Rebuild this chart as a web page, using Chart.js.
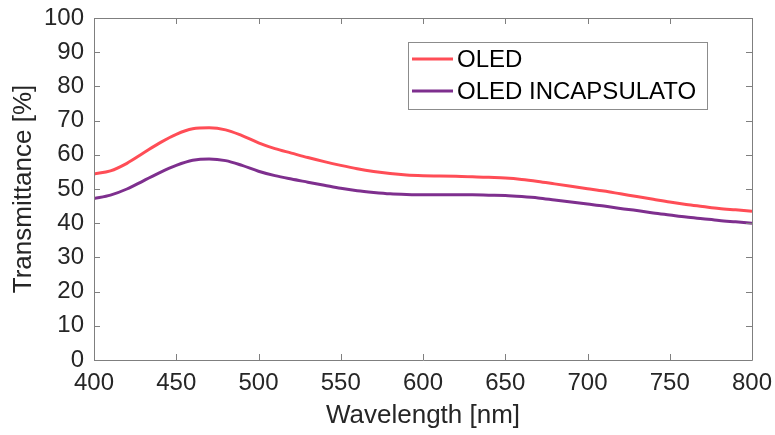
<!DOCTYPE html>
<html>
<head>
<meta charset="utf-8">
<script src="https://cdn.jsdelivr.net/npm/chart.js@4/dist/chart.umd.min.js"></script>
<style>
  html, body { margin: 0; padding: 0; background: #fff; }
  #wrap { width: 775px; height: 435px; position: relative; }
</style>
</head>
<body>
<div id="wrap"><canvas id="chart1"></canvas></div>
<script>
// wavelength (nm)
const wavelengths = [400, 410, 420, 430, 440, 450, 460, 470, 480, 490,
    500, 510, 520, 530, 540, 550, 560, 570, 580, 590,
    600, 610, 620, 630, 640, 650, 660, 670, 680, 690,
    700, 710, 720, 730, 740, 750, 760, 770, 780, 790, 800];

// transmittance (%)
const oled = [54.4, 55.3, 57.5, 60.5, 63.5, 66.0, 67.6, 67.9, 67.3, 65.6,
    63.5, 61.8, 60.5, 59.2, 58.0, 56.9, 55.9, 55.1, 54.5, 54.1,
    53.9, 53.8, 53.7, 53.6, 53.4, 53.2, 52.8, 52.2, 51.5, 50.8,
    50.1, 49.4, 48.6, 47.8, 47.0, 46.2, 45.5, 44.9, 44.3, 43.9, 43.5];

const oledIncapsulato = [47.2, 48.2, 50.0, 52.4, 54.8, 56.9, 58.4, 58.8, 58.3, 56.9,
    55.2, 53.9, 52.9, 52.0, 51.1, 50.2, 49.5, 49.0, 48.6, 48.4,
    48.3, 48.3, 48.3, 48.3, 48.2, 48.1, 47.8, 47.4, 46.8, 46.2,
    45.6, 45.0, 44.3, 43.7, 43.0, 42.4, 41.8, 41.3, 40.8, 40.4, 40.0];

const seriesLabels = ['OLED', 'OLED INCAPSULATO'];
const seriesColors = ['#ff4d56', '#7e2f8e'];

const xTicks = [400, 450, 500, 550, 600, 650, 700, 750, 800];
const yTicks = [0, 10, 20, 30, 40, 50, 60, 70, 80, 90, 100];

const FONT = 'Arial, "Liberation Sans", Helvetica, sans-serif';

// frame + inward ticks on all four sides (MATLAB look)
const framePlugin = {
    id: 'frame',
    afterDatasetsDraw(chart) {
        const ctx = chart.ctx;
        const a = chart.chartArea;
        const xs = chart.scales.x, ys = chart.scales.y;
        ctx.save();
        ctx.strokeStyle = '#7f7f7f';
        ctx.lineWidth = 1;
        ctx.beginPath();
        ctx.rect(Math.round(a.left) + 0.5, Math.round(a.top) + 0.5,
            Math.round(a.right - a.left), Math.round(a.bottom - a.top));
        const len = 6;
        xTicks.forEach(v => {
            const px = Math.round(xs.getPixelForValue(v)) + 0.5;
            ctx.moveTo(px, a.bottom); ctx.lineTo(px, a.bottom - len);
            ctx.moveTo(px, a.top); ctx.lineTo(px, a.top + len);
        });
        yTicks.forEach(v => {
            const py = Math.round(ys.getPixelForValue(v)) + 0.5;
            ctx.moveTo(a.left, py); ctx.lineTo(a.left + len, py);
            ctx.moveTo(a.right, py); ctx.lineTo(a.right - len, py);
        });
        ctx.stroke();

        // legend box
        const bx = 408, by = 42, bw = 299, bh = 67;
        ctx.fillStyle = '#fff';
        ctx.fillRect(bx, by, bw, bh);
        ctx.strokeStyle = '#8c8c8c';
        ctx.strokeRect(bx + 0.5, by + 0.5, bw, bh);
        ctx.font = '24px ' + FONT;
        ctx.textBaseline = 'middle';
        ctx.textAlign = 'left';
        chart.data.datasets.forEach((ds, i) => {
            const yy = by + 17 + i * 32;
            ctx.strokeStyle = ds.borderColor;
            ctx.lineWidth = 3;
            ctx.beginPath();
            ctx.moveTo(bx + 4, yy); ctx.lineTo(bx + 45, yy);
            ctx.stroke();
            ctx.fillStyle = '#000';
            ctx.fillText(ds.label, bx + 49, yy + 1);
        });
        ctx.restore();
    }
};

const data1 = {
    datasets: [{
        label: seriesLabels[0],
        data: wavelengths.map((w, i) => ({ x: w, y: oled[i] })),
        borderColor: seriesColors[0],
        borderWidth: 3,
        pointRadius: 0,
        cubicInterpolationMode: 'monotone',
        fill: false
    }, {
        label: seriesLabels[1],
        data: wavelengths.map((w, i) => ({ x: w, y: oledIncapsulato[i] })),
        borderColor: seriesColors[1],
        borderWidth: 3,
        pointRadius: 0,
        cubicInterpolationMode: 'monotone',
        fill: false
    }]
};

const config1 = {
    type: 'line',
    data: data1,
    options: {
        responsive: true,
        maintainAspectRatio: false,
        animation: false,
        layout: { padding: { left: 0, right: 23, top: 18, bottom: 0 } },
        plugins: {
            legend: { display: false },
            tooltip: { enabled: false }
        },
        scales: {
            x: {
                type: 'linear',
                min: 400,
                max: 800,
                afterBuildTicks: s => { s.ticks = xTicks.map(v => ({ value: v })); },
                afterFit: s => { s.height = 75; s.paddingLeft = 0; s.paddingRight = 0; },
                grid: { display: false, drawTicks: false },
                border: { display: false },
                ticks: {
                    color: '#262626',
                    font: { family: FONT, size: 24 },
                    padding: 9,
                    maxRotation: 0
                },
                title: {
                    display: true,
                    text: 'Wavelength [nm]',
                    color: '#262626',
                    font: { family: FONT, size: 26 },
                    padding: { top: 0, bottom: 4 }
                }
            },
            y: {
                min: 0,
                max: 100,
                afterBuildTicks: s => { s.ticks = yTicks.map(v => ({ value: v })); },
                afterFit: s => { s.width = 94; s.paddingTop = 0; s.paddingBottom = 0; },
                grid: { display: false, drawTicks: false },
                border: { display: false },
                ticks: {
                    color: '#262626',
                    font: { family: FONT, size: 24 },
                    padding: 10
                },
                title: {
                    display: true,
                    text: 'Transmittance [%]',
                    color: '#262626',
                    font: { family: FONT, size: 26 },
                    padding: { top: 8, bottom: 0 }
                }
            }
        }
    },
    plugins: [framePlugin]
};

const chart1 = new Chart(document.getElementById('chart1'), config1);
</script>
</body>
</html>
